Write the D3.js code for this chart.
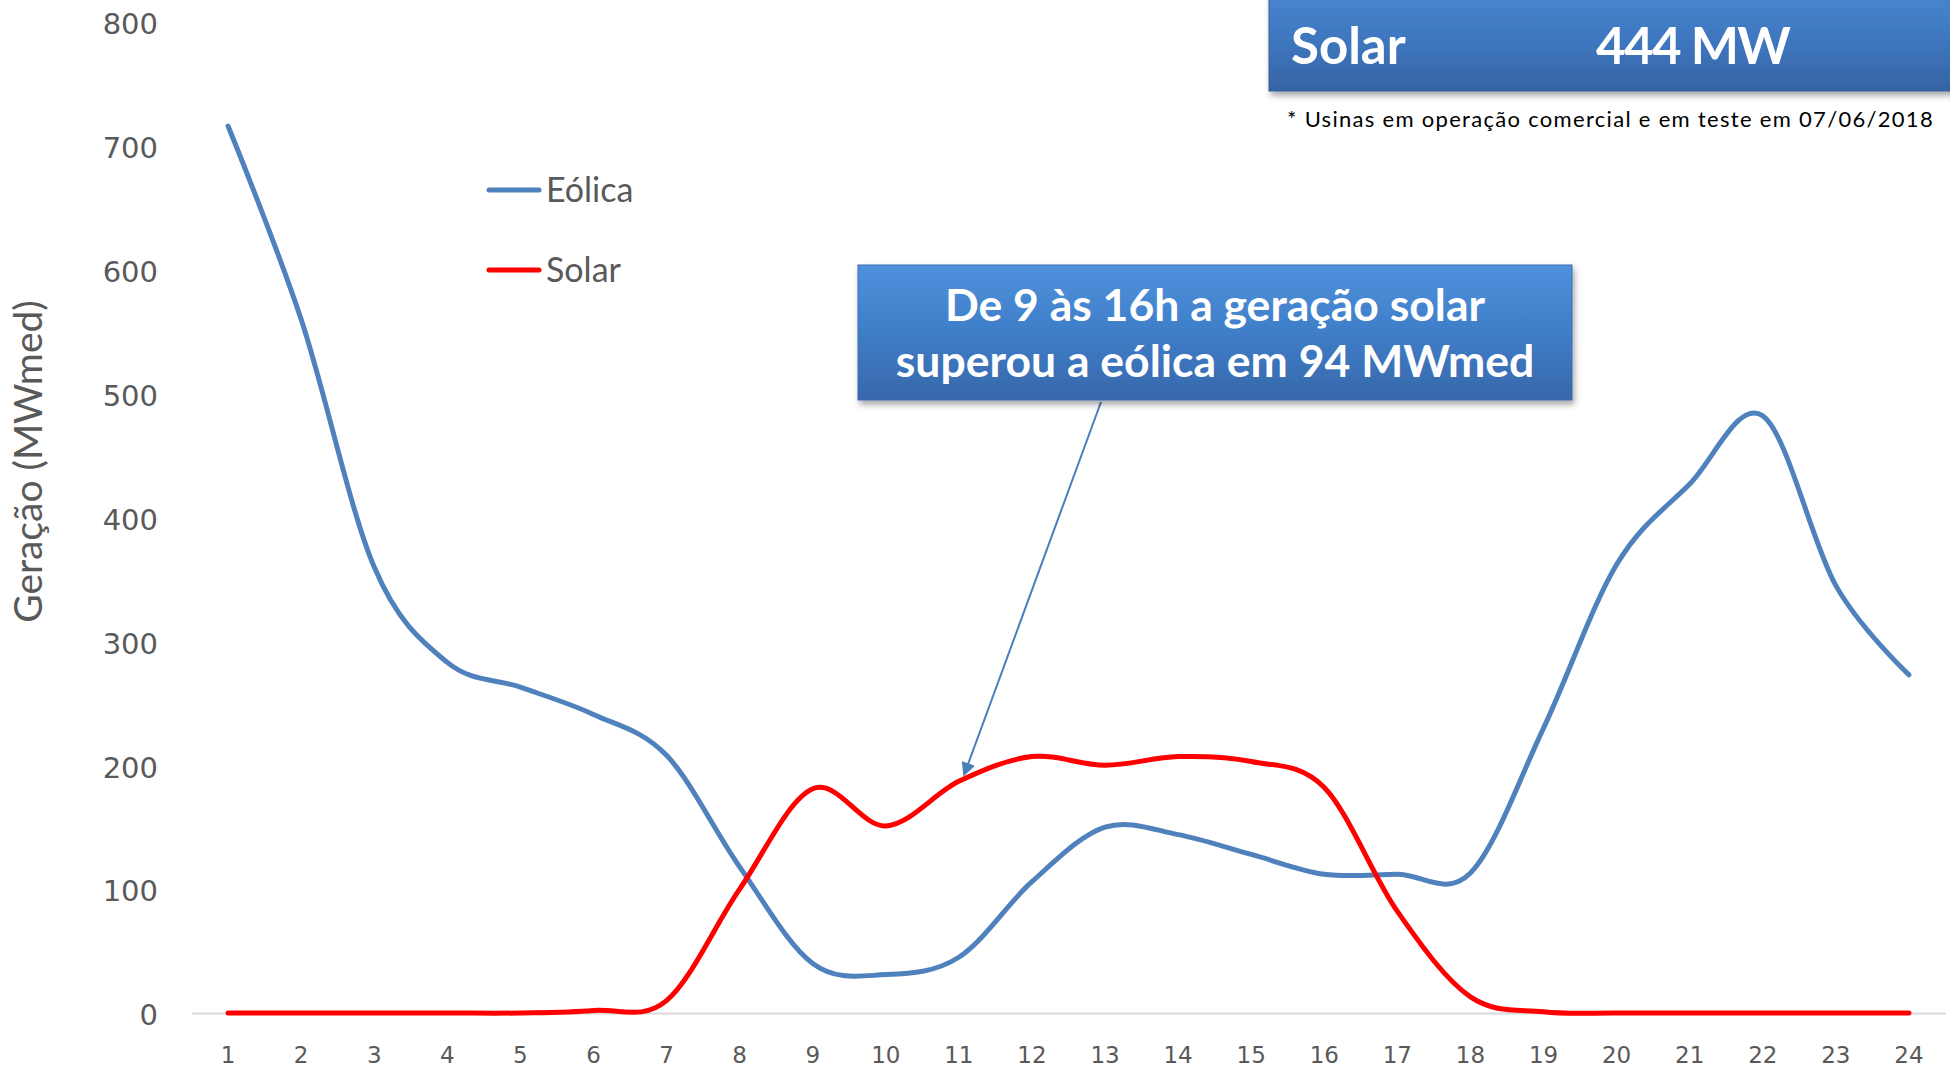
<!DOCTYPE html>
<html>
<head>
<meta charset="utf-8">
<script src="https://cdn.jsdelivr.net/npm/d3@7"></script>
<style>
  html, body { margin: 0; padding: 0; background: #ffffff; }
  svg { display: block; }
</style>
</head>
<body>
<script>
// ---- Data ----
const hours = ["1","2","3","4","5","6","7","8","9","10","11","12","13","14","15","16","17","18","19","20","21","22","23","24"];
const eolica = [716, 560, 360, 283, 263, 241, 208, 118, 40, 31, 45, 106, 150, 144, 128, 112, 112, 113, 230, 362, 427, 482, 345, 273];
const solar  = [0, 0, 0, 0, 0, 2, 10, 100, 181, 151, 187, 207, 200, 207, 203, 182, 82, 13, 1, 0, 0, 0, 0, 0];
const yTicks = [0, 100, 200, 300, 400, 500, 600, 700, 800];
const seriesNames = ["Eólica", "Solar"];
const seriesColors = ["#4F81BD", "#FF0000"];
const yTitle = "Geração (MWmed)";
const boxLabel = "Solar";
const boxValue = "444 MW";
const footnote = "* Usinas em operação comercial e em teste em 07/06/2018";
const calloutLines = ["De 9 às 16h a geração solar", "superou a eólica em 94 MWmed"];
const arrowTip = { hour: 11.07, value: 192 };

// ---- Layout ----
const W = 1950, H = 1070;
const svg = d3.select("body").append("svg").attr("width", W).attr("height", H);

const x = d3.scaleBand().domain(hours).range([191.5, 1945.5]).padding(0);
const xc = h => x(h) + x.bandwidth() / 2;
const xNum = hv => x("1") + x.bandwidth() / 2 + (hv - 1) * x.bandwidth();
const y = d3.scaleLinear().domain([0, 800]).range([1013, 22]);

const defs = svg.append("defs");
const g1 = defs.append("linearGradient").attr("id", "boxGrad").attr("x1", 0).attr("y1", 0).attr("x2", 0).attr("y2", 1);
g1.append("stop").attr("offset", "0%").attr("stop-color", "#4a86d0");
g1.append("stop").attr("offset", "55%").attr("stop-color", "#3d75bd");
g1.append("stop").attr("offset", "100%").attr("stop-color", "#3563a3");
const g2 = defs.append("linearGradient").attr("id", "calGrad").attr("x1", 0).attr("y1", 0).attr("x2", 0).attr("y2", 1);
g2.append("stop").attr("offset", "0%").attr("stop-color", "#4f91dc");
g2.append("stop").attr("offset", "50%").attr("stop-color", "#3f7ec8");
g2.append("stop").attr("offset", "100%").attr("stop-color", "#3767aa");
const sh = defs.append("filter").attr("id", "shadow").attr("x", "-10%").attr("y", "-10%").attr("width", "130%").attr("height", "140%");
sh.append("feDropShadow").attr("dx", 2).attr("dy", 4).attr("stdDeviation", 3).attr("flood-color", "#000").attr("flood-opacity", 0.35);
defs.append("marker").attr("id", "arrowHead").attr("viewBox", "0 0 10 10").attr("refX", 9).attr("refY", 5)
  .attr("markerWidth", 7).attr("markerHeight", 7).attr("markerUnits", "strokeWidth").attr("orient", "auto")
  .append("path").attr("d", "M0,0 L10,5 L0,10 z").attr("fill", "#4A7EBB");

// ---- Axes ----
const xAxis = svg.append("g").attr("transform", `translate(0,${y(0)})`)
  .call(d3.axisBottom(x).tickSize(0).tickPadding(34));
xAxis.select(".domain").attr("stroke", "#D9D9D9").attr("stroke-width", 2);
xAxis.selectAll("text").attr("font-family", "DejaVu Sans").attr("font-size", 23).attr("fill", "#595959");

const yAxis = svg.append("g").attr("transform", `translate(158,2.5)`)
  .call(d3.axisLeft(y).tickValues(yTicks).tickSize(0).tickPadding(0));
yAxis.select(".domain").remove();
yAxis.selectAll("text").attr("font-family", "DejaVu Sans").attr("font-size", 29).attr("fill", "#595959");

svg.append("text")
  .attr("transform", `translate(42,${(y(0) + y(800)) / 2 - 56}) rotate(-90)`)
  .attr("text-anchor", "middle")
  .attr("font-family", "Lato").attr("font-size", 39).attr("fill", "#595959")
  .text(yTitle);

// ---- Lines ----
const line = d3.line().x((d, i) => xc(hours[i])).y(d => y(d)).curve(d3.curveCardinal.tension(0));
[eolica, solar].forEach((s, i) => {
  svg.append("path").datum(s).attr("d", line)
    .attr("fill", "none").attr("stroke", seriesColors[i]).attr("stroke-width", 5)
    .attr("stroke-linecap", "round").attr("stroke-linejoin", "round");
});

// ---- Legend ----
seriesNames.forEach((n, i) => {
  const ly = 190 + i * 80;
  svg.append("line").attr("x1", 489).attr("x2", 539).attr("y1", ly).attr("y2", ly)
    .attr("stroke", seriesColors[i]).attr("stroke-width", 5).attr("stroke-linecap", "round");
  svg.append("text").attr("x", 546).attr("y", ly + 12)
    .attr("font-family", "Lato").attr("font-size", 34).attr("fill", "#595959").text(n);
});

// ---- Top box ----
svg.append("rect").attr("x", 1269).attr("y", -10).attr("width", 700).attr("height", 101)
  .attr("fill", "url(#boxGrad)").attr("stroke", "#34609c").attr("stroke-width", 1).attr("filter", "url(#shadow)");
svg.append("text").attr("x", 1291).attr("y", 64).attr("font-family", "Lato").attr("font-weight", "bold")
  .attr("font-size", 51).attr("fill", "#ffffff").text(boxLabel);
svg.append("text").attr("x", 1596).attr("y", 64).attr("font-family", "Lato").attr("font-weight", "bold")
  .attr("font-size", 51).attr("letter-spacing", -1.6).attr("fill", "#ffffff").text(boxValue);
svg.append("text").attr("x", 1934).attr("y", 127).attr("text-anchor", "end").attr("font-family", "Lato")
  .attr("font-size", 22).attr("letter-spacing", 1.3).attr("fill", "#000000").text(footnote);

// ---- Callout ----
svg.append("line").attr("x1", 1101).attr("y1", 402).attr("x2", xNum(arrowTip.hour)).attr("y2", y(arrowTip.value))
  .attr("stroke", "#4A7EBB").attr("stroke-width", 2).attr("marker-end", "url(#arrowHead)");
svg.append("rect").attr("x", 858).attr("y", 265).attr("width", 714).attr("height", 135)
  .attr("fill", "url(#calGrad)").attr("stroke", "#3a6cb0").attr("stroke-width", 1).attr("filter", "url(#shadow)");
calloutLines.forEach((t, i) => {
  svg.append("text").attr("x", 1215).attr("y", 321 + i * 56).attr("text-anchor", "middle")
    .attr("font-family", "Lato").attr("font-weight", "bold").attr("font-size", 44.5).attr("fill", "#ffffff").text(t);
});
</script>
</body>
</html>
